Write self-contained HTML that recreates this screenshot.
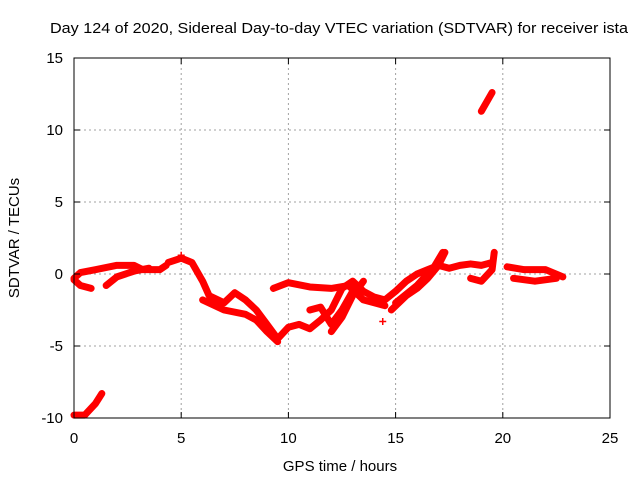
<!DOCTYPE html>
<html><head><meta charset="utf-8"><style>
body{margin:0;background:#fff;}
svg{display:block;font-family:"Liberation Sans",sans-serif;}
</style></head><body>
<svg id="chart" width="640" height="480">
<text x="50" y="33" font-size="15" textLength="578" lengthAdjust="spacingAndGlyphs">Day 124 of 2020, Sidereal Day-to-day VTEC variation (SDTVAR) for receiver ista</text>
<g id="grid"></g>
<g id="series"></g>
<rect x="74" y="58" width="536" height="360" fill="none" stroke="#000" stroke-width="1"/>
<g id="ticks"></g>
<text x="340" y="471" font-size="15" text-anchor="middle">GPS time / hours</text>
<text x="19" y="238" font-size="15" text-anchor="middle" transform="rotate(-90 19 238)">SDTVAR / TECUs</text>
</svg>
<script>
const xTicks=[0,5,10,15,20,25];
const yTicks=[-10,-5,0,5,10,15];
const traceA=[[0,-0.3],[0.3,0.1],[1,0.3],[2,0.6],[2.8,0.6],[3.2,0.3],[4,0.3],[4.3,0.6]];
const traceA2=[[0,-0.4],[0.3,-0.8],[0.8,-1.0]];
const traceA3=[[1.5,-0.8],[2,-0.2],[2.8,0.2],[3.5,0.4]];
const traceB=[[4.4,0.8],[5,1.1],[5.5,0.8],[6,-0.5],[6.3,-1.5],[7,-2],[7.5,-1.3],[8,-1.8],[8.5,-2.5],[9,-3.5],[9.5,-4.5],[10,-3.7],[10.5,-3.5],[11,-3.8],[11.5,-3.2],[12,-2.5],[12.5,-1],[13,-0.5],[13.5,-1.2],[14,-1.6],[14.5,-1.8],[15,-1.2],[15.5,-0.5],[16,0],[16.5,0.3],[17,0.6],[17.5,0.4],[18,0.6],[18.5,0.7],[19,0.6],[19.5,0.8]];
const traceC=[[6,-1.8],[7,-2.5],[8,-2.8],[8.5,-3.2],[9,-4.0],[9.5,-4.7]];
const traceD=[[9.3,-1.0],[10,-0.6],[11,-0.9],[12,-1.0],[12.8,-0.8],[13.5,-1.8],[14,-2.0],[14.5,-2.2]];
const traceE=[[11,-2.5],[11.5,-2.3],[12,-3.5],[12.5,-2.5],[13,-1.2]];
const traceF=[[12,-4.0],[12.5,-3],[13,-1.5],[13.5,-0.5]];
const traceG=[[14.8,-2.5],[15.5,-1.5],[16,-1.0],[16.5,-0.3],[17,0.6],[17.3,1.5]];
const traceH=[[15,-2.0],[16,-0.8],[16.8,0.5],[17.2,1.5]];
const traceI=[[18.5,-0.3],[19,-0.5],[19.5,0.3],[19.6,1.5]];
const traceJ=[[20.2,0.5],[21,0.3],[22,0.3],[22.8,-0.2]];
const traceJ2=[[20.5,-0.3],[21.5,-0.5],[22.5,-0.3]];
const traceK=[[0,-9.8],[0.5,-9.8],[1,-9],[1.3,-8.3]];
const traceL=[[19,11.3],[19.5,12.6]];
const isolated=[[14.4,-3.3],[5,1.3],[9.3,-1.0]];
const traces=[traceA,traceA2,traceA3,traceB,traceC,traceD,traceE,traceF,traceG,traceH,traceI,traceJ,traceJ2,traceK,traceL];

const NS='http://www.w3.org/2000/svg';
const X=v=>74+(v-0)/25*536;
const Y=v=>418-(v+10)/25*360;
const grid=document.getElementById('grid'),ticks=document.getElementById('ticks'),ser=document.getElementById('series');
function mk(tag,attrs,parent){const e=document.createElementNS(NS,tag);for(const k in attrs)e.setAttribute(k,attrs[k]);parent.appendChild(e);return e;}
xTicks.forEach(t=>{
  const x=X(t);
  if(t>0&&t<25){const g=mk('line',{x1:x,x2:x,y1:58,y2:418,stroke:'#a0a0a0','stroke-dasharray':'2,3'},grid);
  
  }
  mk('line',{x1:x,x2:x,y1:418,y2:412,stroke:'#000'},ticks);
  mk('line',{x1:x,x2:x,y1:58,y2:64,stroke:'#000'},ticks);
  const l=mk('text',{x:x,y:443,'font-size':15,'text-anchor':'middle'},ticks);l.textContent=t;
  
  
});
yTicks.forEach(t=>{
  const y=Y(t);
  if(t>-10&&t<15){const g=mk('line',{x1:74,x2:610,y1:y,y2:y,stroke:'#a0a0a0','stroke-dasharray':'2,3'},grid);
  
  }
  mk('line',{x1:74,x2:80,y1:y,y2:y,stroke:'#000'},ticks);
  mk('line',{x1:604,x2:610,y1:y,y2:y,stroke:'#000'},ticks);
  const l=mk('text',{x:63,y:y+5,'font-size':15,'text-anchor':'end'},ticks);l.textContent=t;
  
  
});
traces.forEach(tr=>{
  const p=mk('polyline',{points:tr.map(d=>X(d[0])+','+Y(d[1])).join(' '),fill:'none',stroke:'#ff0000','stroke-width':7,'stroke-linejoin':'round','stroke-linecap':'round'},ser);
  
  
});
isolated.forEach(d=>{
  const x=X(d[0]),y=Y(d[1]);
  const p=mk('path',{d:`M${x-3.5},${y}H${x+3.5}M${x},${y-3.5}V${y+3.5}`,stroke:'#ff0000','stroke-width':1.5},ser);
  
  
});
</script>
</body></html>
